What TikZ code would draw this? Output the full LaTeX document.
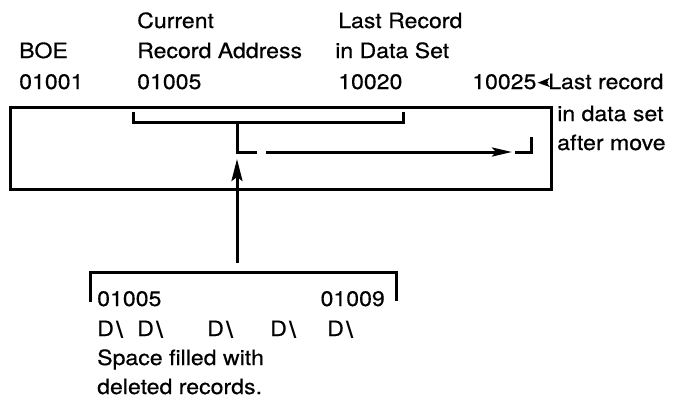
\documentclass[tikz,border=0pt]{standalone}
\usepackage{fontspec}
\setmainfont[FakeStretch=1.1,FakeBold=0.5]{TeX Gyre Heros}
\newfontfamily\bsfont{DejaVu Sans}
\usetikzlibrary{arrows.meta}
\newcommand{\dslash}{D\kern2pt{\bsfont\bfseries\textbackslash}}
\begin{document}
\begin{tikzpicture}[x=1pt,y=-1pt,
  lbl/.style={anchor=base west,inner sep=0pt,font=\fontsize{21}{25}\selectfont},
  lblr/.style={anchor=base east,inner sep=0pt,font=\fontsize{21}{25}\selectfont},
  thick line/.style={line width=3pt,line cap=butt,line join=miter},
  headH/.style={-{Stealth[length=22pt,width=11pt,inset=4pt]}},
  headM/.style={-{Stealth[length=20pt,width=9pt,inset=4pt]}},
  headS/.style={-{Stealth[length=12pt,width=9pt,inset=3pt]}}]
\useasboundingbox (0,0) rectangle (677,402);
% top labels
\node[lbl] (boe) at (19,58) {BOE};
\node[lbl] (a01001) at (19,89) {01001};
\node[lbl] (cur) at (137,28) {Current};
\node[lbl] (recaddr) at (137,58) {Record Address};
\node[lbl] (a01005) at (137,89) {01005};
\node[lbl] (lastR) at (338,28) {Last Record};
\node[lbl] (inDS) at (335,58) {in Data Set};
\node[lbl] (a10020) at (338,89) {10020};
\node[lbl] (a10025) at (472,89) {10025};
\node[lbl] (lastrec) at (548,89) {Last record};
\node[lbl] (inds2) at (557,121) {in data set};
\node[lbl] (after) at (557,150) {after move};
\draw[headS,line width=1.8pt] ([yshift=-1pt]lastrec.west) -- ([yshift=-1pt,xshift=1pt]a10025.east);
% main box
\draw[thick line] (10,107) rectangle (551,189);
% bracket over current..last
\coordinate (b1a) at (133,112);
\coordinate (b1b) at (133,122);
\coordinate (b1c) at (403,122);
\coordinate (b1d) at (403,112);
\draw[thick line] (b1a) -- (b1b) -- (b1c) -- (b1d);
\coordinate (stemtop) at (237,122);
\coordinate (stembot) at (237,152);
\coordinate (stemend) at (257,152);
\draw[thick line] (stemtop) -- (stembot) -- (stemend);
\coordinate (mvstart) at (266,152);
\coordinate (mvend) at (512,152);
\draw[thick line,headM] (mvstart) -- (mvend);
\coordinate (ja) at (515,152);
\coordinate (jb) at (531,152);
\coordinate (jc) at (531,137);
\draw[thick line] (ja) -- (jb) -- (jc);
% up arrow
\coordinate (upbot) at (237,263);
\coordinate (uptop) at (237,159);
\draw[thick line,headH] (upbot) -- (uptop);
% bottom bracket
\coordinate (c1) at (90,302);
\coordinate (c2) at (90,272);
\coordinate (c3) at (396,272);
\coordinate (c4) at (396,301);
\draw[thick line] (c1) -- (c2) -- (c3) -- (c4);
% bottom labels
\node[lbl] (b01005) at (97,306) {01005};
\node[lblr] (b01009) at (385,306) {01009};
\node[lbl] (d1) at (97,336) {\dslash};
\node[lbl] (d2) at (137,336) {\dslash};
\node[lbl] (d3) at (207,336) {\dslash};
\node[lbl] (d4) at (270,336) {\dslash};
\node[lbl] (d5) at (327,336) {\dslash};
\node[lbl] (sp) at (97,365) {Space filled with};
\node[lbl] (del) at (97,394) {deleted records.};
\end{tikzpicture}
\end{document}
